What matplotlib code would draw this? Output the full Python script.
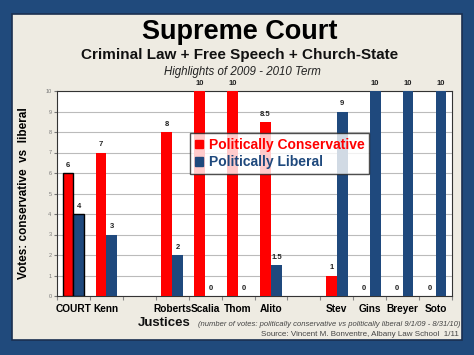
import matplotlib
matplotlib.use('Agg')
import matplotlib.pyplot as plt
from matplotlib.patches import Rectangle
import numpy as np

plt.rcParams['font.family'] = ['Liberation Sans', 'DejaVu Sans']

justices = ['COURT', 'Kenn', '', 'Roberts', 'Scalia', 'Thom', 'Alito', '', 'Stev', 'Gins', 'Breyer', 'Soto']
conservative = [6, 7, None, 8, 10, 10, 8.5, None, 1, 0, 0, 0]
liberal = [4, 3, None, 2, 0, 0, 1.5, None, 9, 10, 10, 10]

red = '#FF0000'
blue = '#1F497D'
frame = '#204A7C'
cream = '#EEEBE2'

W, H = 474, 355
fig = plt.figure(figsize=(W / 100, H / 100), dpi=100)
fig.patch.set_facecolor(frame)

# cream panel
panel = Rectangle((12 / W, 1 - 340 / H), 450 / W, 326 / H, transform=fig.transFigure,
                  facecolor=cream, edgecolor='#1A2F50', lw=1.2, zorder=-5)
fig.patches.append(panel)

ax = fig.add_axes([57 / W, 1 - 296 / H, 395 / W, 205 / H])
ax.set_facecolor('white')

x = np.arange(len(justices))
bw = 0.33
for i in range(len(justices)):
    if conservative[i] is None:
        continue
    ec = 'black' if i == 0 else 'none'
    ax.bar(x[i] - bw / 2, conservative[i], bw, color=red, edgecolor=ec, lw=1.0, zorder=3)
    ax.bar(x[i] + bw / 2, liberal[i], bw, color=blue, edgecolor=ec, lw=1.0, zorder=3)
    for xv, v in ((x[i] - bw / 2, conservative[i]), (x[i] + bw / 2, liberal[i])):
        lab = ('%g' % v)
        ax.text(xv, v + 0.2, lab, ha='center', va='bottom', fontsize=5.5,
                fontweight='bold', color='#222222', clip_on=False, zorder=4)

ax.set_xlim(-0.5, len(justices) - 0.5)
ax.set_ylim(0, 10)
ax.set_yticks(range(0, 11))
ax.tick_params(axis='y', labelsize=4, colors='#777777', length=2, pad=2)
ax.set_xticks(np.arange(-0.5, len(justices), 1), minor=False)
ax.set_xticklabels([])
ax.tick_params(axis='x', length=3, colors='#888888')
ax.set_xticks(x, minor=True)
ax.set_xticklabels(justices, minor=True, fontsize=7.3, fontweight='bold')
ax.tick_params(axis='x', which='minor', length=0, pad=6, labelcolor='black')
ax.grid(axis='y', color='#BBBBBB', lw=0.8, zorder=0)
ax.set_axisbelow(True)
for s in ax.spines.values():
    s.set_color('#333333')
    s.set_linewidth(0.8)

ax.set_ylabel('Votes: conservative  vs  liberal', fontsize=8.5, fontweight='bold', labelpad=11)

leg_handles = [Rectangle((0, 0), 1, 1, color=red), Rectangle((0, 0), 1, 1, color=blue)]
leg = ax.legend(leg_handles, ['Politically Conservative', 'Politically Liberal'],
                loc='upper left', bbox_to_anchor=((190 - 57) / 395, (296 - 133) / 205),
                prop={'size': 10, 'weight': 'bold'}, frameon=True, fancybox=False,
                handlelength=0.6, handleheight=0.6, handletextpad=0.4,
                borderpad=0.35, labelspacing=0.25, borderaxespad=0)
leg.get_frame().set_edgecolor('#222222')
leg.get_frame().set_linewidth(1.0)
for t, c in zip(leg.get_texts(), [red, blue]):
    t.set_color(c)

fig.text(240 / W, 1 - 32 / H, 'Supreme Court', ha='center', va='center',
         fontsize=19.5, fontweight='bold', color='black')
fig.text(240 / W, 1 - 55 / H, 'Criminal Law + Free Speech + Church-State', ha='center',
         va='center', fontsize=11, fontweight='bold', color='#111111')
fig.text(242 / W, 1 - 72 / H, 'Highlights of 2009 - 2010 Term', ha='center', va='center',
         fontsize=8.3, style='italic', color='#222222')

fig.text(138 / W, 1 - 323 / H, 'Justices', ha='left', va='center', fontsize=9.5,
         fontweight='bold', color='#111111')
fig.text(460 / W, 1 - 324 / H,
         '(number of votes: politically conservative vs politically liberal 9/1/09 - 8/31/10)',
         ha='right', va='center', fontsize=5.5, style='italic', color='#444444')
fig.text(459 / W, 1 - 334 / H, 'Source: Vincent M. Bonventre, Albany Law School  1/11',
         ha='right', va='center', fontsize=5.8, color='#444444')

fig.savefig('out.png', dpi=100, facecolor=fig.get_facecolor())
